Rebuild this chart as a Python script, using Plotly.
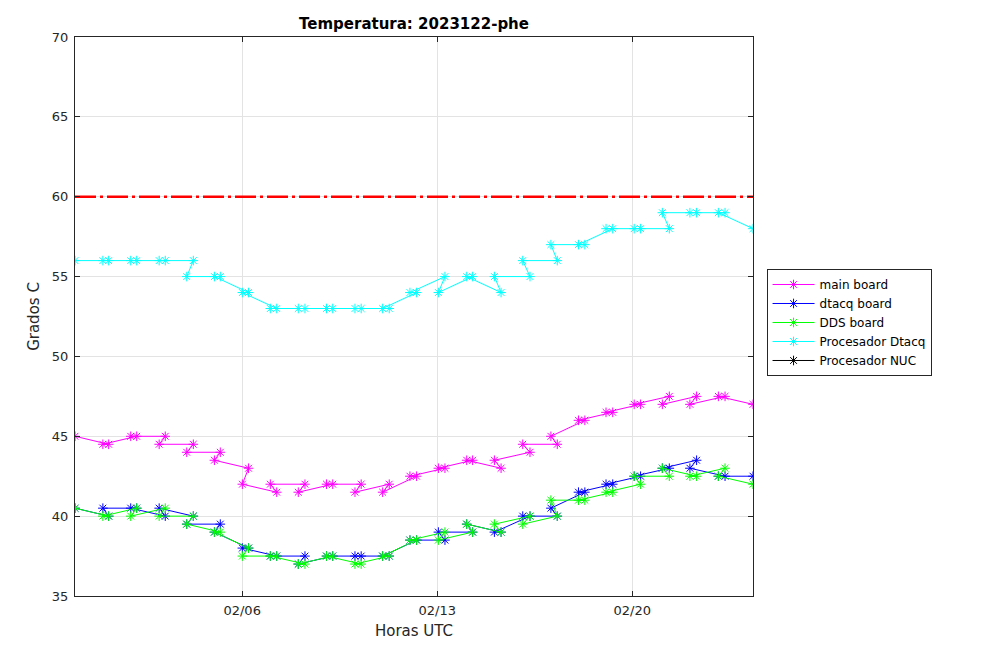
#temperature log plot, matlab-like look

import plotly.graph_objects as go

# sampling times, in plotting order (each day: late reading first, then early one)
times = [
    "2023-01-31 00:00",
    "2023-02-01 05:00", "2023-02-01 00:00",
    "2023-02-02 05:10", "2023-02-02 00:00",
    "2023-02-03 05:45", "2023-02-03 00:30",
    "2023-02-04 05:55", "2023-02-04 00:15",
    "2023-02-05 05:10", "2023-02-05 00:05",
    "2023-02-06 05:30", "2023-02-06 00:10",
    "2023-02-07 05:45", "2023-02-07 00:15",
    "2023-02-08 06:05", "2023-02-08 00:20",
    "2023-02-09 06:00", "2023-02-09 00:40",
    "2023-02-10 06:30", "2023-02-10 01:10",
    "2023-02-11 06:40", "2023-02-11 01:00",
    "2023-02-12 06:15", "2023-02-12 00:30",
    "2023-02-13 06:40", "2023-02-13 01:00",
    "2023-02-14 06:30", "2023-02-14 01:25",
    "2023-02-15 07:00", "2023-02-15 01:15",
    "2023-02-16 07:55", "2023-02-16 01:40",
    "2023-02-17 07:25", "2023-02-17 01:55",
    "2023-02-18 07:10", "2023-02-18 01:40",
    "2023-02-19 07:10", "2023-02-19 01:25",
    "2023-02-20 07:10", "2023-02-20 01:40",
    "2023-02-21 07:55", "2023-02-21 01:55",
    "2023-02-22 07:25", "2023-02-22 01:40",
    "2023-02-23 07:55", "2023-02-23 02:10",
    "2023-02-24 08:00",
]

main_board = [
    45,
    44.5, 44.5, 45, 45, 45, 44.5, 44.5, 44, 44, 43.5,
    43, 42, 41.5, 42, 42, 41.5, 42, 42, 42, 41.5,
    42, 41.5, 42.5, 42.5, 43, 43, 43.5, 43.5, 43, 43.5,
    44, 44.5, 44.5, 45, 46, 46, 46.5, 46.5, 47, 47,
    47.5, 47, 47.5, 47, 47.5, 47.5,
    47,
]

dtacq_board = [
    40.5,
    40, 40.5, 40.5, 40.5, 40, 40.5, 40, 39.5, 39.5, 39,
    38, 38, 37.5, 37.5, 37.5, 37, 37.5, 37.5, 37.5, 37.5,
    37.5, 37.5, 38.5, 38.5, 38.5, 39, 39, 39.5, 39, 39,
    40, 40, 40, 40.5, 41.5, 41.5, 42, 42, 42.5, 42.5,
    43, 43, 43.5, 43, 42.5, 42.5,
    42.5,
]

dds_board = [
    40.5,
    40, 40, 40.5, 40, 40.5, 40, 40, 39.5, 39, 39,
    38, 37.5, 37.5, 37.5, 37, 37, 37.5, 37.5, 37, 37,
    37.5, 37.5, 38.5, 38.5, 39, 38.5, 39, 39.5, 39, 39.5,
    40, 39.5, 40, 41, 41, 41, 41.5, 41.5, 42, 42.5,
    42.5, 43, 42.5, 42.5, 43, 42.5,
    42,
]

proc_dtacq = [
    56,
    56, 56, 56, 56, 56, 56, 56, 55, 55, 55,
    54, 54, 53, 53, 53, 53, 53, 53, 53, 53,
    53, 53, 54, 54, 55, 54, 55, 55, 54, 55,
    55, 56, 56, 57, 57, 57, 58, 58, 58, 58,
    58, 59, 59, 59, 59, 59,
    58,
]

# NUC processor: no readings in this period
proc_nuc = [None] * len(times)

limit = 60

tick_dates = ["2023-02-06", "2023-02-13", "2023-02-20"]
tick_text = ["02/06", "02/13", "02/20"]

series = [
    ("main board", main_board, "#ff00ff"),
    ("dtacq board", dtacq_board, "#0000ff"),
    ("DDS board", dds_board, "#00ff00"),
    ("Procesador Dtacq", proc_dtacq, "#00ffff"),
    ("Procesador NUC", proc_nuc, "#000000"),
]

fig = go.Figure()

# threshold line
fig.add_trace(go.Scatter(
    x=[times[0], times[-1]], y=[limit, limit],
    mode="lines", showlegend=False, hoverinfo="skip",
    line=dict(color="#ff0000", width=2.5, dash="21px,4px,3px,4px"),
))

for name, vals, col in series:
    fig.add_trace(go.Scatter(
        x=times, y=vals, name=name, mode="lines+markers",
        line=dict(color=col, width=1),
        marker=dict(symbol="asterisk-open", size=8,
                    line=dict(color=col, width=1)),
    ))

axis_font = dict(family="DejaVu Sans", size=13, color="#262626")

# page has an 8px body margin, so margins are shifted by 8
fig.update_layout(
    width=1008, height=661,
    margin=dict(l=67, r=263, t=29, b=73),
    paper_bgcolor="white", plot_bgcolor="white",
    font=dict(family="DejaVu Sans", size=13, color="#262626"),
    title=dict(text="<b>Temperatura: 2023122-phe</b>",
               x=0.5, xref="paper", xanchor="center",
               y=1 - 16 / 661, yref="container", yanchor="middle",
               font=dict(family="DejaVu Sans", size=15, color="#000000")),
    showlegend=True,
    legend=dict(x=1.02, xanchor="left", y=0.585, yanchor="top",
                bgcolor="white", bordercolor="#262626", borderwidth=1,
                font=dict(family="DejaVu Sans", size=12, color="#000000"),
                tracegroupgap=0, itemwidth=42),
)

fig.update_xaxes(
    range=[times[0], times[-1]],
    tickvals=tick_dates, ticktext=tick_text,
    showline=True, linecolor="#262626", linewidth=1, mirror="ticks",
    ticks="inside", ticklen=5, tickcolor="#262626",
    ticklabelstandoff=2,
    showgrid=True, gridcolor="#e3e3e3", gridwidth=1, zeroline=False,
    tickfont=axis_font,
    title=dict(text="Horas UTC", standoff=8,
               font=dict(family="DejaVu Sans", size=15, color="#262626")),
)

fig.update_yaxes(
    range=[35, 70], dtick=5,
    showline=True, linecolor="#262626", linewidth=1, mirror="ticks",
    ticks="inside", ticklen=5, tickcolor="#262626",
    ticklabelstandoff=3,
    showgrid=True, gridcolor="#e3e3e3", gridwidth=1, zeroline=False,
    tickfont=axis_font,
    title=dict(text="Grados C", standoff=8,
               font=dict(family="DejaVu Sans", size=15, color="#262626")),
)

fig.write_html("out.html")
